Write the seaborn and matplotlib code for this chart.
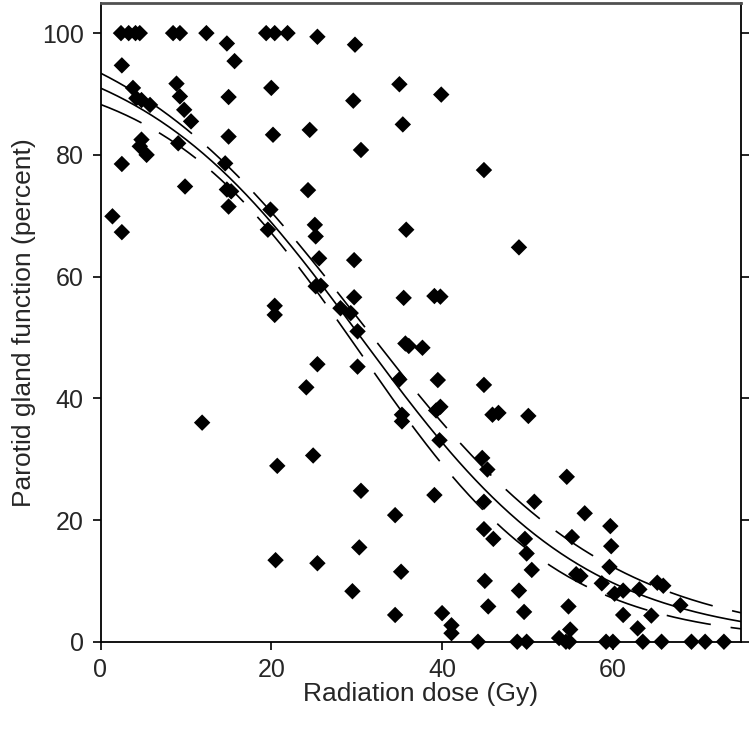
import numpy as np
import pandas as pd
import matplotlib
matplotlib.use('Agg')
import matplotlib.pyplot as plt
import seaborn as sns

sns.set_style('ticks')
plt.rcParams['font.family'] = ['Liberation Sans', 'DejaVu Sans']

# radiation dose (Gy) and parotid gland function (percent)
dose = [2.4, 3.3, 4.1, 4.6, 8.5, 9.3, 12.4, 19.4, 20.4, 21.9,
        14.8, 15.7, 25.4, 29.8, 2.5,
        3.8, 4.2, 4.8, 5.8, 8.9, 9.3, 9.8, 10.6,
        15.0, 20.0, 29.6, 4.8, 4.6, 5.4,
        9.1, 15.0, 20.2, 24.5, 30.5,
        2.5, 14.6, 9.9, 14.8, 15.3, 15.0, 19.9, 24.3,
        1.4, 2.5, 19.6, 25.1, 25.2,
        25.6, 29.7, 25.2, 25.8, 29.7, 28.1, 29.3, 30.1,
        20.4, 20.4, 25.4, 30.1, 24.1, 11.9,
        35.0, 39.9, 35.4, 44.9, 35.8, 49.0,
        35.5, 39.1, 39.8, 35.7, 36.1, 37.7,
        35.0, 39.5, 44.9, 39.8, 39.3, 35.3, 35.3, 45.9, 46.6, 50.1,
        39.7, 44.7, 45.3, 54.6, 39.1, 44.9, 50.8, 34.5, 56.7,
        44.9, 46.0, 49.7, 55.2, 49.9, 50.5, 35.2, 55.7, 56.2,
        45.0, 49.0, 45.4, 49.6, 54.8, 34.5, 40.0,
        41.1, 41.1, 55.0,
        44.2, 48.8, 49.9, 53.7, 54.5, 54.9,
        59.7, 59.8, 59.6, 58.7, 60.2, 61.2, 63.1, 65.2, 65.9, 67.9, 61.2, 64.5, 62.9,
        59.2, 60.0, 63.5, 65.7, 69.2, 70.8, 73.0,
        20.7, 24.9, 30.5, 30.3, 20.5, 25.4, 29.5]
function = [100, 100, 100, 100, 100, 100, 100, 100, 100, 100,
            98.3, 95.4, 99.4, 98.1, 94.7,
            91.0, 89.3, 89.0, 88.2, 91.7, 89.6, 87.4, 85.5,
            89.5, 91.0, 88.9, 82.5, 81.4, 80.0,
            81.9, 83.0, 83.3, 84.1, 80.8,
            78.5, 78.6, 74.8, 74.3, 74.0, 71.5, 71.0, 74.2,
            69.9, 67.3, 67.7, 68.5, 66.6,
            63.0, 62.7, 58.4, 58.5, 56.6, 54.8, 54.0, 51.0,
            55.2, 53.7, 45.6, 45.2, 41.8, 36.0,
            91.6, 89.9, 85.0, 77.5, 67.7, 64.8,
            56.5, 56.8, 56.7, 49.0, 48.6, 48.3,
            43.1, 43.0, 42.2, 38.6, 38.0, 37.3, 36.2, 37.3, 37.6, 37.1,
            33.1, 30.2, 28.3, 27.1, 24.1, 23.0, 23.0, 20.8, 21.1,
            18.5, 16.9, 16.9, 17.2, 14.5, 11.8, 11.5, 11.1, 10.8,
            10.0, 8.4, 5.8, 4.9, 5.8, 4.4, 4.7,
            2.7, 1.4, 2.0,
            0, 0, 0, 0.6, 0, 0,
            19.0, 15.7, 12.3, 9.6, 7.9, 8.4, 8.6, 9.7, 9.2, 6.0, 4.4, 4.3, 2.2,
            0, 0, 0, 0, 0, 0, 0,
            28.9, 30.6, 24.8, 15.5, 13.4, 12.9, 8.3]

# logistic fit and its confidence band: (top, dose at half, slope width)
fit_params = (100.0, 30.5, 13.2)
upper_params = (105.0, 30.5, 14.6)
lower_params = (95.0, 30.4, 11.8)


def logistic(x, top, d50, width):
    return top / (1 + np.exp((x - d50) / width))


points = pd.DataFrame({'dose': dose, 'function': function})
grid = np.linspace(0, 75, 300)
curves = pd.DataFrame({'dose': grid,
                       'fit': logistic(grid, *fit_params),
                       'upper': logistic(grid, *upper_params),
                       'lower': logistic(grid, *lower_params)})

fig = plt.figure(figsize=(7.5, 7.29), dpi=100)
ax = fig.add_axes([0.134, 0.1197, 0.854, 0.8766])

sns.lineplot(data=curves, x='dose', y='fit', color='black', lw=1.2, ax=ax)
for band in ['upper', 'lower']:
    sns.lineplot(data=curves, x='dose', y=band, color='black', lw=1.2,
                 dashes=False, ax=ax, linestyle=(0, (27, 12)))
sns.scatterplot(data=points, x='dose', y='function', marker='D', s=70,
                color='black', edgecolor='none', ax=ax, zorder=5, clip_on=False)

ax.set_xlim(0, 75)
ax.set_ylim(0, 105)
ax.set_xticks([0, 20, 40, 60])
ax.set_yticks([0, 20, 40, 60, 80, 100])
ax.tick_params(axis='both', labelsize=18, length=6, width=1.2, direction='out',
               pad=6, color='black')
ax.tick_params(axis='y', right=True, labelright=False)
for side in ['left', 'bottom', 'right']:
    ax.spines[side].set_color('black')
    ax.spines[side].set_linewidth(1.3)
ax.spines['top'].set_color('#505050')
ax.spines['top'].set_linewidth(2)

ax.set_xlabel('Radiation dose (Gy)', fontsize=19, labelpad=0)
ax.set_ylabel('Parotid gland function (percent)', fontsize=19, labelpad=4)

fig.savefig('out.png', dpi=100)
